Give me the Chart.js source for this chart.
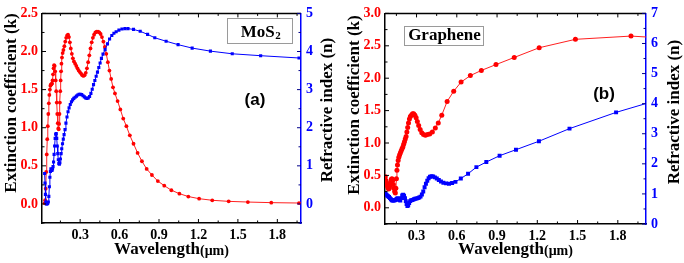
<!DOCTYPE html>
<html>
<head>
<meta charset="utf-8">
<script src="https://cdn.jsdelivr.net/npm/chart.js@4.4.1/dist/chart.umd.min.js"></script>
<style>
  html, body { margin: 0; padding: 0; background: #fff; }
  #wrap { position: relative; width: 684px; height: 263px; }
  canvas { position: absolute; top: 0; }
</style>
</head>
<body>
<div id="wrap">
  <canvas id="mos" width="342" height="263" style="left:0"></canvas>
  <canvas id="gra" width="342" height="263" style="left:342px"></canvas>
</div>
<script>
// ---- tick labels ----
const wavelengthTicks = [0.3, 0.6, 0.9, 1.2, 1.5, 1.8];
const mosKTicks = [0, 0.5, 1.0, 1.5, 2.0, 2.5];
const mosNTicks = [0, 1, 2, 3, 4, 5];
const graKTicks = [0, 0.5, 1.0, 1.5, 2.0, 2.5, 3.0];
const graNTicks = [0, 1, 2, 3, 4, 5, 6, 7];

// ---- MoS2, extinction coefficient k ----
const mosKWave = [0.030, 0.034, 0.038, 0.042, 0.046, 0.050, 0.054, 0.058, 0.062, 0.066,
  0.070, 0.074, 0.078, 0.082, 0.086, 0.090, 0.094, 0.098, 0.102, 0.106,
  0.110, 0.114, 0.118, 0.122, 0.126, 0.130, 0.134, 0.137, 0.140, 0.143,
  0.146, 0.149, 0.152, 0.155, 0.158, 0.162, 0.167, 0.173, 0.180, 0.187,
  0.194, 0.201, 0.208, 0.215, 0.222, 0.229, 0.237, 0.245, 0.253, 0.262,
  0.271, 0.280, 0.289, 0.298, 0.307, 0.316, 0.325, 0.334, 0.343, 0.352,
  0.361, 0.370, 0.379, 0.388, 0.397, 0.406, 0.416, 0.426, 0.436, 0.446,
  0.456, 0.466, 0.477, 0.488, 0.499, 0.511, 0.523, 0.536, 0.550, 0.565,
  0.585, 0.606, 0.628, 0.652, 0.678, 0.706, 0.737, 0.770, 0.806, 0.846,
  0.891, 0.940, 0.994, 1.055, 1.123, 1.205, 1.305, 1.430, 1.576, 1.754, 1.965];
const mosK = [0.01, 0.05, 0.20, 0.42, 0.65, 0.85, 1.02, 1.18, 1.32, 1.43,
  1.50, 1.55, 1.57, 1.57, 1.58, 1.62, 1.70, 1.78, 1.82, 1.81,
  1.74, 1.62, 1.48, 1.33, 1.18, 1.06, 0.99, 0.98, 1.05, 1.18,
  1.33, 1.48, 1.62, 1.74, 1.84, 1.92, 1.98, 2.02, 2.07, 2.13,
  2.18, 2.21, 2.22, 2.19, 2.12, 2.04, 1.97, 1.91, 1.87, 1.84,
  1.81, 1.78, 1.75, 1.73, 1.71, 1.69, 1.68, 1.69, 1.72, 1.78,
  1.86, 1.95, 2.04, 2.12, 2.18, 2.22, 2.25, 2.26, 2.26, 2.25,
  2.23, 2.19, 2.13, 2.06, 1.97, 1.86, 1.75, 1.64, 1.53, 1.45,
  1.35, 1.24, 1.12, 1.02, 0.90, 0.79, 0.67, 0.56, 0.46, 0.38,
  0.30, 0.24, 0.18, 0.135, 0.097, 0.069, 0.048, 0.034, 0.025, 0.017, 0.012];

// ---- MoS2, refractive index n ----
const mosNWave = [0.030, 0.033, 0.036, 0.039, 0.043, 0.048, 0.053, 0.058, 0.062, 0.066,
  0.070, 0.074, 0.078, 0.082, 0.086, 0.090, 0.094, 0.098, 0.102, 0.106,
  0.110, 0.114, 0.118, 0.122, 0.126, 0.130, 0.134, 0.138, 0.142, 0.146,
  0.150, 0.155, 0.160, 0.166, 0.172, 0.178, 0.185, 0.192, 0.200, 0.208,
  0.216, 0.225, 0.234, 0.243, 0.252, 0.262, 0.272, 0.282, 0.292, 0.302,
  0.312, 0.322, 0.332, 0.342, 0.352, 0.362, 0.372, 0.382, 0.392, 0.402,
  0.412, 0.422, 0.432, 0.442, 0.452, 0.462, 0.474, 0.490, 0.508, 0.524,
  0.541, 0.557, 0.574, 0.595, 0.618, 0.641, 0.664, 0.706, 0.757, 0.813,
  0.868, 0.954, 1.045, 1.152, 1.291, 1.457, 1.673, 1.965];
const mosN = [0.80, 0.55, 0.25, 0.05, 0.00, 0.00, 0.01, 0.05, 0.20, 0.45,
  0.70, 0.85, 0.92, 0.90, 0.88, 0.92, 0.98, 1.10, 1.30, 1.52,
  1.72, 1.83, 1.85, 1.72, 1.52, 1.32, 1.16, 1.06, 1.04, 1.08,
  1.18, 1.32, 1.45, 1.58, 1.70, 1.82, 1.95, 2.12, 2.28, 2.42,
  2.52, 2.61, 2.68, 2.73, 2.77, 2.80, 2.83, 2.86, 2.88, 2.88,
  2.87, 2.84, 2.81, 2.78, 2.77, 2.78, 2.82, 2.90, 3.01, 3.13,
  3.24, 3.35, 3.46, 3.58, 3.70, 3.82, 3.93, 4.05, 4.20, 4.33,
  4.42, 4.48, 4.52, 4.56, 4.59, 4.60, 4.60, 4.58, 4.53, 4.45,
  4.36, 4.27, 4.18, 4.09, 4.01, 3.94, 3.89, 3.83];

// ---- Graphene, extinction coefficient k ----
const graKWave = [0.067, 0.072, 0.077, 0.082, 0.087, 0.092, 0.097, 0.102, 0.107, 0.112,
  0.117, 0.122, 0.127, 0.132, 0.137, 0.142, 0.146, 0.150, 0.154, 0.158,
  0.163, 0.168, 0.174, 0.180, 0.186, 0.192, 0.198, 0.204, 0.210, 0.216,
  0.222, 0.228, 0.234, 0.240, 0.247, 0.254, 0.261, 0.270, 0.279, 0.288,
  0.297, 0.306, 0.316, 0.327, 0.339, 0.352, 0.366, 0.381, 0.398, 0.418,
  0.440, 0.462, 0.488, 0.528, 0.577, 0.632, 0.701, 0.783, 0.892, 1.028,
  1.214, 1.484, 1.898, 2.060];
const graK = [0.48, 0.42, 0.38, 0.34, 0.31, 0.29, 0.30, 0.34, 0.40, 0.44,
  0.45, 0.42, 0.36, 0.30, 0.25, 0.23, 0.30, 0.45, 0.58, 0.66,
  0.73, 0.78, 0.82, 0.85, 0.88, 0.91, 0.94, 0.98, 1.02, 1.06,
  1.10, 1.17, 1.24, 1.31, 1.37, 1.41, 1.43, 1.45, 1.45, 1.43,
  1.39, 1.33, 1.27, 1.21, 1.16, 1.13, 1.12, 1.13, 1.14, 1.17,
  1.23, 1.31, 1.43, 1.64, 1.80, 1.94, 2.04, 2.12, 2.21, 2.32,
  2.47, 2.60, 2.65, 2.63];

// ---- Graphene, refractive index n ----
const graNWave = [0.067, 0.074, 0.081, 0.088, 0.095, 0.102, 0.109, 0.116, 0.123, 0.130,
  0.137, 0.144, 0.151, 0.158, 0.165, 0.172, 0.179, 0.186, 0.193, 0.200,
  0.207, 0.214, 0.220, 0.226, 0.232, 0.238, 0.245, 0.252, 0.260, 0.270,
  0.280, 0.290, 0.300, 0.310, 0.320, 0.330, 0.340, 0.350, 0.360, 0.370,
  0.380, 0.390, 0.400, 0.412, 0.424, 0.437, 0.451, 0.466, 0.482, 0.500,
  0.520, 0.542, 0.565, 0.590, 0.630, 0.684, 0.746, 0.820, 0.919, 1.041,
  1.212, 1.440, 1.787, 2.060];
const graN = [1.02, 0.98, 0.95, 0.92, 0.90, 0.86, 0.82, 0.79, 0.78, 0.78,
  0.79, 0.80, 0.83, 0.86, 0.84, 0.80, 0.78, 0.86, 0.95, 0.97,
  0.94, 0.86, 0.76, 0.66, 0.60, 0.62, 0.70, 0.76, 0.79, 0.80,
  0.82, 0.84, 0.85, 0.86, 0.88, 0.91, 0.98, 1.08, 1.22, 1.34,
  1.44, 1.52, 1.57, 1.59, 1.58, 1.55, 1.51, 1.46, 1.41, 1.37,
  1.35, 1.34, 1.36, 1.40, 1.51, 1.67, 1.89, 2.06, 2.27, 2.47,
  2.75, 3.17, 3.71, 4.07];

const RED = '#ff0000';
const BLUE = '#0000ff';
const SERIF = '"Liberation Serif", "Times New Roman", serif';

const pts = (xs, ys) => xs.map((x, i) => ({ x: x, y: ys[i] }));

// frame top edge, inward ticks, titles, labels
const decor = {
  id: 'decor',
  afterDraw(chart) {
    const o = chart.config.options.plugins.decor;
    const { ctx, chartArea: a, scales } = chart;
    ctx.save();
    ctx.lineWidth = 1.5;
    ctx.strokeStyle = '#000';
    ctx.beginPath();
    ctx.moveTo(a.left, a.top);
    ctx.lineTo(a.right, a.top);
    ctx.stroke();

    const withMinor = (vals, step, s) => {
      const out = [];
      vals.forEach(v => out.push([v, 4]));
      vals.forEach(v => out.push([v - step / 2, 2.5]));
      out.push([vals[vals.length - 1] + step / 2, 2.5]);
      return out.filter(([v]) => v >= s.min && v <= s.max);
    };

    ctx.lineWidth = 1;
    ctx.strokeStyle = '#000';
    ctx.beginPath();
    withMinor(wavelengthTicks, 0.3, scales.x).forEach(([v, len]) => {
      const px = scales.x.getPixelForValue(v);
      ctx.moveTo(px, a.bottom); ctx.lineTo(px, a.bottom - len);
      ctx.moveTo(px, a.top); ctx.lineTo(px, a.top + len);
    });
    withMinor(o.kTicks, 0.5, scales.y).forEach(([v, len]) => {
      const py = scales.y.getPixelForValue(v);
      ctx.moveTo(a.left, py); ctx.lineTo(a.left + len, py);
    });
    ctx.stroke();
    ctx.strokeStyle = '#00008b';
    ctx.beginPath();
    withMinor(o.nTicks, 1, scales.y1).forEach(([v, len]) => {
      const py = scales.y1.getPixelForValue(v);
      ctx.moveTo(a.right, py); ctx.lineTo(a.right - len, py);
    });
    ctx.stroke();

    // axis titles
    ctx.fillStyle = '#000';
    ctx.textAlign = 'center';
    ctx.textBaseline = 'middle';
    ctx.font = 'bold 17px ' + SERIF;
    const vtext = (t, x, y) => {
      ctx.save(); ctx.translate(x, y); ctx.rotate(-Math.PI / 2);
      ctx.fillText(t, 0, 0); ctx.restore();
    };
    vtext('Extinction coefficient (k)', o.leftTitle[0], o.leftTitle[1]);
    vtext('Refractive index (n)', o.rightTitle[0], o.rightTitle[1]);

    ctx.textBaseline = 'alphabetic';
    ctx.textAlign = 'left';
    const big = 'bold 17px ' + SERIF, small = 'bold 14px ' + SERIF;
    ctx.font = big; const w1 = ctx.measureText('Wavelength').width;
    ctx.font = small; const w2 = ctx.measureText('(\u03bcm)').width;
    const xc = (a.left + a.right) / 2, x0 = xc - (w1 + w2) / 2;
    ctx.font = big; ctx.fillText('Wavelength', x0, o.xTitleY);
    ctx.font = small; ctx.fillText('(\u03bcm)', x0 + w1, o.xTitleY + 1);

    // material box
    const b = o.box;
    ctx.fillStyle = '#fff';
    ctx.fillRect(b.x, b.y, b.w, b.h);
    ctx.strokeStyle = '#9a9a9a';
    ctx.lineWidth = 1;
    ctx.strokeRect(b.x + 0.5, b.y + 0.5, b.w, b.h);
    ctx.fillStyle = '#000';
    ctx.font = 'bold 17px ' + SERIF;
    const tw = ctx.measureText(b.text).width;
    ctx.font = 'bold 11px ' + SERIF;
    const sw = b.sub ? ctx.measureText(b.sub).width : 0;
    const tx = b.x + (b.w - tw - sw) / 2 + 1;
    ctx.font = 'bold 17px ' + SERIF;
    ctx.fillText(b.text, tx, b.base);
    if (b.sub) {
      ctx.font = 'bold 11px ' + SERIF;
      ctx.fillText(b.sub, tx + tw + 0.5, b.base + 2);
    }

    // panel letter
    ctx.textAlign = 'center';
    ctx.textBaseline = 'middle';
    ctx.font = 'bold 17px "Liberation Sans", Arial, sans-serif';
    ctx.fillText(o.letter[0], o.letter[1], o.letter[2]);
    ctx.restore();
  }
};

function makeChart(id, o) {
  const tickFont = { family: SERIF, size: 14, weight: 'bold' };
  return new Chart(document.getElementById(id), {
    type: 'scatter',
    data: {
      datasets: [
        {
          data: pts(o.nWave, o.n), yAxisID: 'y1', showLine: true,
          borderColor: BLUE, borderWidth: 1, backgroundColor: BLUE,
          pointStyle: 'rect', pointRadius: o.nSize, pointBorderWidth: 0
        },
        {
          data: pts(o.kWave, o.k), yAxisID: 'y', showLine: true,
          borderColor: '#ff2020', borderWidth: 1, backgroundColor: RED,
          pointStyle: 'circle', pointRadius: o.kSize, pointBorderWidth: 0
        }
      ]
    },
    options: {
      responsive: false,
      animation: false,
      layout: { padding: { top: o.top, left: 0, right: 0, bottom: 0 } },
      plugins: { legend: { display: false }, tooltip: { enabled: false }, decor: o.decor },
      scales: {
        x: {
          type: 'linear', position: 'bottom', min: o.xMin, max: o.xMax,
          afterFit: s => { s.height = o.xH; },
          afterBuildTicks: s => { s.ticks = wavelengthTicks.map(v => ({ value: v })); },
          ticks: { callback: v => v.toFixed(1), color: '#000', font: tickFont, padding: 4, maxRotation: 0, autoSkip: false },
          grid: { display: false, drawTicks: false },
          border: { display: true, color: '#000', width: 1.5 }
        },
        y: {
          type: 'linear', position: 'left', min: o.kMin, max: o.kMax,
          afterFit: s => { s.width = o.leftW; },
          afterBuildTicks: s => { s.ticks = o.decor.kTicks.map(v => ({ value: v })); },
          ticks: { callback: v => v.toFixed(1), color: RED, font: tickFont, padding: 4, autoSkip: false },
          grid: { display: false, drawTicks: false },
          border: { display: true, color: '#000', width: 1.5 }
        },
        y1: {
          type: 'linear', position: 'right', min: o.nMin, max: o.nMax,
          afterFit: s => { s.width = o.rightW; },
          afterBuildTicks: s => { s.ticks = o.decor.nTicks.map(v => ({ value: v })); },
          ticks: { callback: v => String(v), color: BLUE, font: tickFont, padding: 5, autoSkip: false },
          grid: { display: false, drawTicks: false },
          border: { display: true, color: BLUE, width: 1.5 }
        }
      }
    },
    plugins: [decor]
  });
}

makeChart('mos', {
  kWave: mosKWave, k: mosK, nWave: mosNWave, n: mosN,
  kSize: 1.9, nSize: 2.2,
  xMin: 0.01, xMax: 1.98, kMin: -0.25, kMax: 2.5, nMin: -0.5, nMax: 5,
  top: 10, xH: 40, leftW: 42, rightW: 41,
  decor: {
    kTicks: mosKTicks, nTicks: mosNTicks,
    leftTitle: [12, 103], rightTitle: [328, 110], xTitleY: 254,
    box: { x: 227, y: 18, w: 65, h: 25, text: 'MoS', sub: '2', base: 37 },
    letter: ['(a)', 255, 100]
  }
});

makeChart('gra', {
  kWave: graKWave, k: graK, nWave: graNWave, n: graN,
  kSize: 2.5, nSize: 2.8,
  xMin: 0.065, xMax: 2.01, kMin: -0.25, kMax: 3.0, nMin: 0, nMax: 7,
  top: 12, xH: 39, leftW: 43, rightW: 38,
  decor: {
    kTicks: graKTicks, nTicks: graNTicks,
    leftTitle: [13, 105], rightTitle: [333, 112], xTitleY: 254,
    box: { x: 62, y: 26, w: 79, h: 19, text: 'Graphene', sub: '', base: 40 },
    letter: ['(b)', 262, 94]
  }
});
</script>
</body>
</html>
